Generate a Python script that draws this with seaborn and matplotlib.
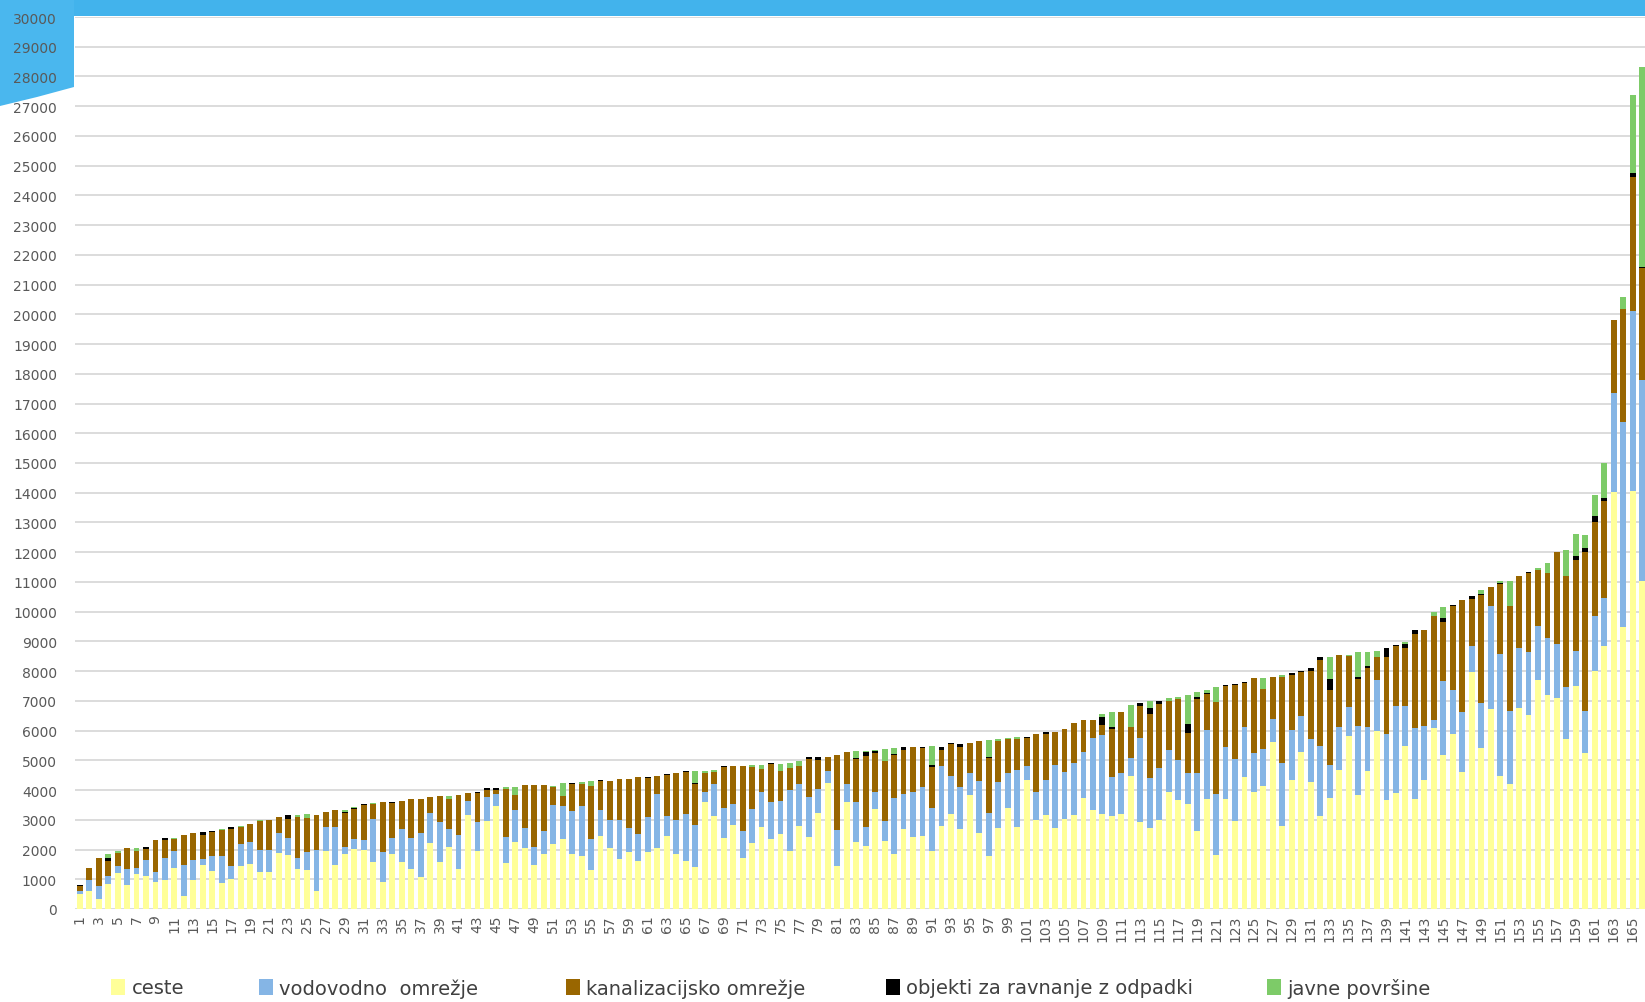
import numpy as np
import pandas as pd
import matplotlib
matplotlib.use("Agg")
import matplotlib.pyplot as plt
import seaborn as sns
from matplotlib.patches import Rectangle, Polygon, Patch

# ---------------- data ----------------
municipalities = [str(i) for i in range(1, 167)]

ceste = [510, 610, 350, 830, 1225, 800, 1190, 1125, 900, 965,
         1395, 450, 965, 1485, 1290, 865, 1000, 1450, 1515, 1260,
         1260, 1890, 1810, 1360, 1315, 605, 1935, 1485, 1845, 2010,
         1980, 1585, 900, 1845, 1585, 1350, 1090, 2205, 1585, 2070,
         1350, 3145, 1935, 2955, 3450, 1550, 2270, 2045, 1485, 1845,
         2170, 2340, 1845, 1775, 1315, 2460, 2045, 1685, 1910, 1620,
         1910, 2045, 2460, 1865, 1605, 1415, 3595, 3135, 2395, 2820,
         1720, 2225, 2755, 2340, 2530, 1965, 2790, 2430, 3235, 4250,
         1450, 3610, 2260, 2135, 3350, 2295, 1845, 2700, 2405, 2460,
         1945, 2790, 3205, 2700, 3835, 2565, 1785, 2730, 3385, 2765,
         4325, 2980, 3145, 2730, 3025, 3160, 3730, 3340, 3180, 3115,
         3205, 4485, 2910, 2720, 3010, 3925, 3675, 3520, 2630, 3700,
         1810, 3700, 2955, 4450, 3925, 4125, 5630, 2790, 4325, 5295,
         4260, 3125, 3730, 4675, 5835, 3835, 4655, 5980, 3675, 3890,
         5475, 3710, 4350, 6080, 5170, 5880, 4610, 7980, 5430, 6710,
         4485, 4195, 6745, 6540, 7690, 7195, 7095, 5730, 7510, 5230,
         8020, 8830, 14020, 9490, 14055, 11040]

vodovodno = [90, 380, 420, 280, 225, 560, 190, 530, 360, 755,
             550, 1035, 685, 200, 495, 920, 450, 720, 755, 740,
             740, 650, 585, 360, 595, 1370, 830, 1280, 225, 360,
             325, 1430, 1010, 550, 1110, 1045, 1470, 1010, 1340, 630,
             1145, 495, 990, 810, 415, 880, 1070, 675, 585, 785,
             1340, 1115, 1440, 1700, 1055, 855, 965, 1295, 810, 910,
             1190, 1820, 675, 1115, 1595, 1405, 340, 1055, 1010, 720,
             920, 1145, 1180, 1260, 1100, 2035, 1425, 1335, 790, 405,
             1215, 585, 1350, 630, 595, 660, 1890, 1155, 1540, 1650,
             1460, 2020, 1270, 1395, 730, 1730, 1450, 1530, 1200, 1910,
             485, 955, 1205, 2115, 1595, 1755, 1565, 2415, 2675, 1335,
             1380, 585, 2845, 1675, 1745, 1415, 1340, 1070, 1955, 2335,
             2055, 1765, 2080, 1685, 1305, 1270, 745, 2125, 1685, 1190,
             1460, 2370, 1110, 1440, 945, 2315, 1460, 1710, 2215, 2945,
             1360, 2370, 1800, 290, 2485, 1470, 2000, 875, 1505, 3485,
             4080, 2450, 2025, 2100, 1820, 1920, 1830, 1720, 1170, 1420,
             1850, 1640, 3340, 6885, 6055, 6755]

kanalizacijsko = [170, 380, 940, 510, 440, 675, 585, 350, 1070, 585,
                  395, 1010, 920, 790, 800, 880, 1250, 585, 595, 965,
                  1010, 560, 620, 1370, 1160, 1200, 505, 575, 1160, 980,
                  1180, 505, 1690, 1180, 935, 1315, 1150, 550, 875, 1010,
                  1340, 260, 980, 225, 125, 1620, 495, 1440, 2090, 1530,
                  585, 350, 920, 720, 1755, 980, 1305, 1405, 1665, 1920,
                  1315, 605, 1370, 1595, 1405, 1370, 640, 415, 1360, 1260,
                  2160, 1395, 765, 1270, 1010, 755, 595, 1295, 990, 470,
                  2505, 1100, 1430, 2370, 1295, 2010, 1440, 1505, 1505, 1315,
                  1370, 550, 1080, 1370, 1025, 1350, 1830, 1395, 1125, 1035,
                  935, 1935, 1530, 1100, 1430, 1325, 1055, 595, 325, 1605,
                  2025, 1045, 1080, 2180, 2125, 1665, 2055, 1325, 2485, 1190,
                  3100, 2025, 2485, 1450, 2550, 2000, 1440, 2900, 1865, 1485,
                  2270, 2865, 2520, 2420, 1730, 1585, 2000, 775, 2575, 2010,
                  1955, 3170, 3225, 3475, 2000, 2855, 3775, 1575, 3630, 650,
                  2360, 3550, 2440, 2675, 1900, 2190, 3070, 3745, 3055, 5340,
                  3130, 3245, 2435, 3810, 4510, 3755]

objekti = [30, 0, 0, 110, 0, 0, 0, 65, 0, 70,
           0, 0, 0, 100, 45, 0, 55, 0, 0, 0,
           0, 0, 145, 0, 0, 0, 0, 0, 35, 35,
           35, 0, 0, 35, 0, 0, 0, 0, 0, 0,
           0, 0, 35, 70, 70, 0, 0, 0, 0, 0,
           0, 0, 35, 0, 0, 35, 0, 0, 0, 0,
           35, 0, 35, 0, 35, 35, 0, 0, 35, 0,
           0, 0, 0, 25, 0, 0, 0, 45, 90, 0,
           0, 0, 45, 135, 65, 0, 35, 90, 0, 25,
           65, 100, 25, 100, 0, 0, 45, 0, 0, 0,
           45, 0, 65, 0, 0, 0, 0, 0, 270, 70,
           0, 0, 100, 200, 110, 0, 0, 295, 45, 45,
           0, 35, 35, 35, 0, 0, 0, 0, 70, 45,
           125, 100, 360, 0, 0, 80, 55, 0, 315, 35,
           110, 125, 0, 0, 125, 35, 0, 100, 35, 0,
           55, 0, 0, 35, 0, 0, 0, 0, 150, 150,
           210, 95, 0, 0, 130, 55]

javne = [0, 0, 0, 110, 60, 0, 70, 0, 0, 0,
         55, 0, 0, 0, 0, 35, 0, 35, 0, 35,
         0, 0, 0, 55, 110, 0, 0, 0, 80, 55,
         0, 35, 0, 0, 0, 0, 0, 0, 0, 90,
         0, 0, 0, 0, 0, 45, 260, 0, 0, 0,
         55, 425, 0, 65, 170, 0, 0, 0, 0, 0,
         0, 0, 0, 0, 0, 415, 65, 70, 0, 0,
         0, 65, 135, 0, 225, 160, 160, 0, 0, 0,
         0, 0, 215, 55, 55, 415, 215, 0, 0, 0,
         640, 0, 0, 0, 0, 0, 575, 55, 35, 65,
         0, 0, 0, 0, 0, 0, 0, 0, 125, 485,
         0, 755, 0, 215, 0, 80, 55, 975, 170, 100,
         485, 0, 0, 0, 0, 380, 0, 65, 0, 0,
         0, 0, 740, 0, 35, 820, 460, 200, 0, 0,
         90, 0, 0, 155, 370, 0, 0, 0, 125, 0,
         35, 845, 0, 0, 55, 315, 0, 890, 735, 435,
         700, 1190, 0, 395, 2640, 6700]

series_names = ["ceste", "vodovodno  omrežje", "kanalizacijsko omrežje",
                "objekti za ravnanje z odpadki", "javne površine"]
series_values = [ceste, vodovodno, kanalizacijsko, objekti, javne]
series_colors = ["#FFFF99", "#85B5E5", "#996600", "#000000", "#7DCB68"]

y_ticks = list(range(0, 30001, 1000))

# ---------------- figure ----------------
sns.set_theme(style="white")
plt.rcParams['font.family'] = ['DejaVu Sans']

W, H = 1645, 1003
fig = plt.figure(figsize=(W / 100, H / 100), dpi=100)
fig.patch.set_facecolor("white")
ax = fig.add_axes([75 / W, 93 / H, 1570 / W, 892 / H])

bottom = np.zeros(len(municipalities))
for name, vals, col in zip(series_names, series_values, series_colors):
    sns.barplot(x=municipalities, y=vals, order=municipalities, bottom=bottom,
                color=col, saturation=1, width=0.62, errorbar=None,
                linewidth=0, edgecolor="none", ax=ax)
    bottom = bottom + np.array(vals, dtype=float)

ax.set_xlim(-0.5, 165.3)
ax.set_ylim(0, 30000)
ax.set_yticks(y_ticks)
ax.set_yticklabels([str(t) for t in y_ticks])
ax.set_xticks(range(0, len(municipalities), 2))
ax.set_xticklabels(municipalities[::2], rotation=90)
ax.set_xlabel("")
ax.set_ylabel("")
ax.yaxis.grid(True, color="#D9D9D9", linewidth=1.3)
ax.xaxis.grid(False)
ax.set_axisbelow(True)
for s in ax.spines.values():
    s.set_visible(False)
ax.tick_params(axis="y", length=0, pad=13, labelsize=10, labelcolor="#595959")
ax.tick_params(axis="x", length=0, pad=4, labelsize=10, labelcolor="#595959")

# decorative header band and corner wedge
band_color = "#42B3EC"
fig.patches.append(Rectangle((0, 1 - 17 / H), 1, 17 / H, transform=fig.transFigure,
                             facecolor=band_color, edgecolor="none", zorder=-1))
wedge_px = [(0, 0), (74, 0), (74, 88), (37, 98), (0, 107)]
fig.patches.append(Polygon([(x / W, 1 - y / H) for x, y in wedge_px], closed=True,
                           transform=fig.transFigure, facecolor="#4AB7EE",
                           edgecolor="none", zorder=-1))

# legend: one entry per series, placed along the bottom
legend_x_px = [111, 259, 566, 886, 1267]
for n, c, xp in zip(series_names, series_colors, legend_x_px):
    fig.legend(handles=[Patch(facecolor=c, edgecolor="none", label=n)],
               loc="center left", bbox_to_anchor=(xp / W, 1 - 989 / H),
               frameon=False, fontsize=14, handlelength=0.7, handleheight=0.9,
               handletextpad=0.35, borderpad=0, borderaxespad=0,
               labelcolor="#404040")

fig.savefig("out.png", dpi=100)
